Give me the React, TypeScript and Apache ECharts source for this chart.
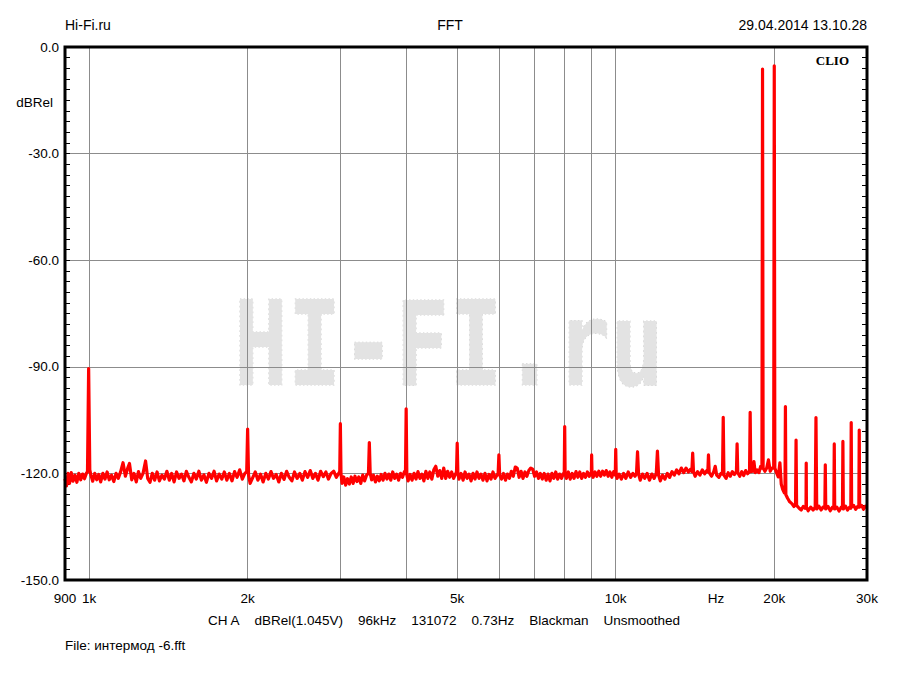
import React, { useEffect, useRef } from "react";
import * as echarts from "echarts";

// Spectrum: [frequency Hz, level dBRel]
const lowBand: [number, number][] = [
  [900, -121.5], [906, -123.5], [912, -120], [918, -122.8], [925, -119.8], [932, -122.2], [940, -120.5], [948, -122.5],
  [956, -120], [964, -121.8], [972, -120.2], [980, -121.5], [988, -120], [993, -119.5], [998, -90.5], [1003, -119],
  [1008, -120.5], [1016, -122.2], [1025, -120], [1034, -121.8], [1043, -120.3], [1052, -122.4], [1062, -120], [1072, -121.6],
  [1082, -119.6], [1092, -121.8], [1103, -120.5], [1114, -122.3], [1125, -120], [1136, -121.4], [1148, -119.5], [1160, -117],
  [1172, -120.8], [1184, -118.5], [1193, -117.2], [1205, -121.8], [1217, -120], [1229, -122.4], [1241, -119.5], [1253, -121.4],
  [1266, -120], [1280, -116.5], [1292, -121.4], [1305, -122.5], [1318, -120], [1332, -121.9], [1346, -119.6], [1360, -122.1],
  [1375, -120.5], [1390, -121.6], [1405, -119.4], [1420, -121.9], [1435, -120], [1450, -122.4], [1466, -119.6], [1482, -121.4],
  [1498, -120.2], [1514, -122.1], [1530, -119.4], [1547, -121.1], [1564, -122.4], [1581, -120], [1598, -121.6], [1616, -119.4],
  [1634, -121.9], [1652, -120.4], [1670, -122.5], [1689, -120], [1708, -121.4], [1727, -119.4], [1746, -122.1], [1766, -120.2],
  [1786, -121.6], [1806, -119.6], [1826, -121.9], [1847, -120], [1868, -122.1], [1889, -119.5], [1910, -121.1], [1932, -119],
  [1954, -121.6], [1976, -120], [1992, -119.5], [2000, -107.5], [2008, -120.5], [2022, -122.8], [2045, -121.2], [2068, -119.6],
  [2092, -121.9], [2116, -120.2], [2140, -122.4], [2165, -120], [2190, -121.6], [2215, -119.5], [2240, -121.4], [2266, -120.3],
  [2292, -122.4], [2318, -120], [2345, -121.7], [2372, -119.4], [2399, -121.1], [2427, -122.1], [2455, -119.6], [2483, -121.4],
  [2512, -120], [2541, -121.9], [2570, -119.5], [2600, -121.1], [2630, -119.2], [2660, -121.4], [2690, -120], [2721, -121.9],
  [2752, -119.4], [2784, -120.9], [2816, -119.6], [2848, -121.6], [2881, -120], [2914, -119.4], [2948, -121.1], [2978, -120],
  [2992, -119.5], [3000, -106], [3008, -120],
];

const midBand: [number, number][] = [
  [3022, -122.8], [3045, -121], [3070, -123.3], [3095, -121.5], [3120, -123], [3146, -121], [3172, -122.8], [3198, -120.8],
  [3225, -122.3], [3252, -121], [3280, -122.8], [3308, -120.5], [3336, -122.1], [3364, -120.5], [3392, -120], [3405, -111.3],
  [3418, -120], [3440, -121.8], [3468, -120.5], [3497, -122.4], [3526, -120.8], [3556, -122.1], [3586, -120.3], [3616, -121.9],
  [3646, -120], [3677, -121.6], [3708, -120.2], [3740, -121.9], [3772, -119.6], [3804, -121.4], [3837, -120.2], [3870, -121.9],
  [3903, -120], [3936, -121.1], [3970, -119.5], [3988, -120], [4000, -101.8], [4012, -120.5], [4035, -122.1], [4070, -120.3],
  [4105, -121.9], [4140, -120], [4176, -121.6], [4212, -119.5], [4248, -121.4], [4285, -120.2], [4322, -122.1], [4360, -119.4],
  [4398, -121.4], [4436, -119.6], [4475, -121.6], [4514, -119], [4553, -118], [4593, -120.8], [4633, -119.2], [4673, -121.4],
  [4714, -118.5], [4755, -121.4], [4796, -119.4], [4838, -121.1], [4880, -119.6], [4922, -121.4], [4970, -120], [4985, -119.5],
  [5000, -111.5], [5015, -120], [5040, -121.6], [5085, -120], [5130, -121.9], [5175, -119.6], [5220, -121.4], [5266, -120.2],
  [5312, -122.1], [5358, -120], [5405, -121.6], [5452, -119.6], [5500, -121.4], [5548, -120.2], [5597, -121.9], [5646, -120],
  [5696, -122.1], [5746, -120.3], [5796, -121.6], [5847, -119.6], [5898, -121.4], [5950, -120.5], [5980, -120], [6000, -114.8],
  [6020, -120.5], [6070, -121.6], [6122, -120], [6175, -121.9], [6228, -120.2], [6282, -121.4], [6336, -119.4], [6390, -120.8],
  [6445, -118.2], [6500, -118.5], [6555, -121.1], [6611, -119.4], [6667, -121.4], [6724, -119.6], [6781, -120.8], [6839, -119.2],
  [6897, -118.5], [6955, -118.8], [7014, -120.8], [7073, -119.6], [7133, -121.4], [7193, -120], [7254, -121.6], [7315, -120],
  [7377, -121.9], [7439, -120.2], [7502, -122.1], [7565, -120], [7629, -121.4], [7693, -119.6], [7758, -121.6], [7823, -120.2],
  [7889, -121.4], [7955, -120], [7985, -119.8], [8000, -106.8], [8015, -120.2], [8060, -121.4], [8128, -119.6], [8196, -121.6],
  [8265, -120], [8334, -121.4], [8404, -119.5], [8474, -121.1], [8545, -119.6], [8616, -121.4], [8688, -120], [8760, -121.1],
  [8833, -119.6], [8906, -120.8], [8975, -119.8], [8990, -120], [9000, -114.8], [9015, -120], [9060, -121.1], [9135, -119.6],
  [9210, -120.8], [9286, -119.4], [9362, -120.8], [9439, -119.4], [9516, -120.5], [9594, -119.2], [9672, -120.8], [9751, -119.6],
  [9830, -121.1], [9910, -119.5], [9980, -120.5], [10000, -113.2], [10020, -120],
];

const highBand: [number, number][] = [
  [10060, -121.4], [10150, -120.2], [10250, -121.6], [10350, -120], [10450, -121.4], [10560, -119.6], [10670, -121.1], [10780, -120],
  [10880, -120.8], [10950, -120], [11000, -113.9], [11050, -120.2], [11130, -121.9], [11240, -120.2], [11350, -121.4], [11470, -120],
  [11590, -121.9], [11710, -120.2], [11830, -121.4], [11940, -120], [12000, -113.7], [12060, -120.5], [12150, -122.1], [12270, -120.5],
  [12400, -121.6], [12530, -120], [12660, -121.1], [12790, -119.5], [12920, -120.5], [13050, -119], [13180, -120.1], [13320, -118.5],
  [13460, -119.8], [13600, -118.5], [13740, -119.6], [13880, -118.8], [13950, -119.5], [14000, -114.3], [14050, -119.5], [14150, -120.8],
  [14300, -119.5], [14450, -120.5], [14600, -119], [14750, -120.1], [14900, -119.2], [14960, -119.5], [15000, -114.8], [15050, -119.8],
  [15200, -120.8], [15350, -119.5], [15450, -118], [15550, -120.5], [15700, -121.1], [15850, -120], [15950, -120.2], [16000, -104.2],
  [16050, -120.5], [16200, -121.4], [16350, -119.8], [16500, -120.8], [16650, -119.5], [16800, -120.3], [16950, -119.5], [17000, -111.7],
  [17050, -119.8], [17200, -120.8], [17350, -119.5], [17500, -120.6], [17650, -119.2], [17800, -120.1], [17950, -119.5], [18000, -102.8],
  [18050, -119.5], [18200, -119.4], [18300, -116.7], [18400, -119.8], [18550, -119], [18700, -119.8], [18850, -118], [18950, -118.5],
  [19000, -6.2], [19050, -118.5], [19200, -119.4], [19350, -118.5], [19500, -116.2], [19650, -119.4], [19800, -118.5], [19950, -118.5],
  [20000, -5.3], [20050, -118.5], [20200, -119.8], [20350, -121], [20500, -117], [20620, -123], [20750, -124.5], [20900, -125.5],
  [20960, -125], [21000, -101.2], [21040, -126], [21200, -127], [21400, -128], [21600, -128.5], [21800, -129.3], [21950, -128.5],
  [22000, -110.6], [22050, -129], [22300, -129.8], [22500, -130.3], [22700, -129.3], [22900, -129.8], [22980, -129], [23000, -117.1],
  [23020, -129.5], [23200, -130.5], [23450, -129.5], [23700, -130.3], [23920, -129.5], [24000, -104.3], [24080, -130], [24300, -129.2],
  [24550, -130.3], [24750, -129.5], [24950, -129.8], [25000, -117.6], [25050, -130], [25300, -129.3], [25550, -130.5], [25800, -129.5],
  [25950, -129.8], [26000, -111.7], [26050, -130], [26300, -129.5], [26550, -130.6], [26800, -129.5], [26950, -129.8], [27000, -111],
  [27050, -130], [27300, -129.2], [27550, -130.3], [27800, -129.5], [27950, -129.8], [28000, -105.7], [28050, -129.5], [28300, -129],
  [28550, -130.1], [28800, -129.3], [28950, -129.5], [29000, -107.8], [29050, -129.5], [29300, -129], [29550, -130.1], [29800, -129.2],
  [30000, -129.5],
];

const gridFreqs = [1000, 2000, 3000, 4000, 5000, 6000, 7000, 8000, 9000, 10000, 20000];
const xTickValues = [900, 1000, 2000, 5000, 10000, 15500, 20000, 30000];
const xTickLabels = ["900", "1k", "2k", "5k", "10k", "Hz", "20k", "30k"];

const FONT = "'Liberation Sans', Arial, sans-serif";
const SP = "\u00A0\u00A0\u00A0\u00A0";

export default function App() {
  const ref = useRef<HTMLDivElement>(null);

  useEffect(() => {
    if (!ref.current) return;
    const chart = echarts.init(ref.current, null, { renderer: "svg" });

    const spectrum = [...lowBand, ...midBand, ...highBand];

    const option: any = {
      animation: false,
      backgroundColor: "#ffffff",
      textStyle: { fontFamily: FONT },
      grid: {
        left: 65,
        right: 33,
        top: 47,
        bottom: 95,
        show: true,
        borderColor: "#000",
        borderWidth: 3,
        backgroundColor: "transparent",
        z: 4,
      },
      xAxis: {
        type: "log",
        logBase: 10,
        min: 900,
        max: 30000,
        axisLine: { show: false },
        axisTick: { show: false },
        splitLine: { show: false },
        minorTick: { show: false },
        minorSplitLine: { show: false },
        axisLabel: {
          customValues: xTickValues,
          showMinLabel: true,
          showMaxLabel: true,
          hideOverlap: false,
          color: "#000",
          fontSize: 13.5,
          fontFamily: FONT,
          margin: 11,
          formatter: (v: number) => {
            const i = xTickValues.findIndex((t) => Math.abs(t - v) < 1);
            return i >= 0 ? xTickLabels[i] : "";
          },
        },
      },
      yAxis: [
        {
          type: "value",
          min: -150,
          max: 0,
          interval: 30,
          axisLine: { show: false },
          axisTick: { show: true, inside: true, length: 5, lineStyle: { color: "#000", width: 1 } },
          minorTick: { show: true, splitNumber: 10, length: 5, lineStyle: { color: "#000", width: 1 } },
          splitLine: { show: true, lineStyle: { color: "#8c8c8c", width: 1 } },
          axisLabel: {
            color: "#000",
            fontSize: 13.5,
            fontFamily: FONT,
            margin: 6,
            formatter: (v: number) => v.toFixed(1),
          },
        },
        {
          type: "value",
          position: "right",
          min: -150,
          max: 0,
          interval: 30,
          axisLine: { show: false },
          axisTick: { show: true, inside: true, length: 5, lineStyle: { color: "#000", width: 1 } },
          minorTick: { show: true, splitNumber: 10, length: 5, lineStyle: { color: "#000", width: 1 } },
          splitLine: { show: false },
          axisLabel: { show: false },
        },
      ],
      graphic: [
        {
          type: "text",
          x: 234,
          y: 286,
          z: 0,
          silent: true,
          scaleX: 0.93,
          scaleY: 1.22,
          style: {
            text: "HI-FI.ru",
            fontFamily: "'DejaVu Sans Mono', monospace",
            fontWeight: "bold",
            fontSize: 96,
            fill: "#e3e3e3",
            stroke: "#d0d0d0",
            lineWidth: 1,
            lineDash: [1.5, 2.5],
            align: "left",
            verticalAlign: "top",
          },
        },
        {
          type: "text",
          x: 65,
          y: 25,
          style: { text: "Hi-Fi.ru", fontFamily: FONT, fontSize: 14, fill: "#000", align: "left", verticalAlign: "middle" },
        },
        {
          type: "text",
          x: 450,
          y: 25,
          style: { text: "FFT", fontFamily: FONT, fontSize: 14, fill: "#000", align: "center", verticalAlign: "middle" },
        },
        {
          type: "text",
          x: 867,
          y: 25,
          style: { text: "29.04.2014 13.10.28", fontFamily: FONT, fontSize: 14, fill: "#000", align: "right", verticalAlign: "middle" },
        },
        {
          type: "text",
          x: 849,
          y: 60,
          z: 10,
          style: {
            text: "CLIO",
            fontFamily: "'Liberation Serif', 'Times New Roman', serif",
            fontWeight: "bold",
            fontSize: 13,
            fill: "#000",
            align: "right",
            verticalAlign: "middle",
          },
        },
        {
          type: "text",
          x: 53,
          y: 102,
          style: { text: "dBRel", fontFamily: FONT, fontSize: 13.5, fill: "#000", align: "right", verticalAlign: "middle" },
        },
        {
          type: "text",
          x: 444,
          y: 620,
          style: {
            text: ["CH A", "dBRel(1.045V)", "96kHz", "131072", "0.73Hz", "Blackman", "Unsmoothed"].join(SP),
            fontFamily: FONT,
            fontSize: 13.5,
            fill: "#000",
            align: "center",
            verticalAlign: "middle",
          },
        },
        {
          type: "text",
          x: 65,
          y: 645,
          style: { text: "File: интермод -6.fft", fontFamily: FONT, fontSize: 13.5, fill: "#000", align: "left", verticalAlign: "middle" },
        },
      ],
      series: [
        {
          type: "line",
          data: [],
          z: 1,
          silent: true,
          markLine: {
            silent: true,
            z: 1,
            symbol: ["none", "none"],
            label: { show: false },
            lineStyle: { color: "#8c8c8c", width: 1, type: "solid" },
            emphasis: { disabled: true },
            data: gridFreqs.map((f) => ({ xAxis: f })),
          },
        },
        {
          type: "line",
          data: spectrum,
          z: 3,
          showSymbol: false,
          symbol: "none",
          silent: true,
          clip: true,
          lineStyle: { color: "#ff0000", width: 3.2, join: "round" },
        },
      ],
    };

    chart.setOption(option);
    return () => chart.dispose();
  }, []);

  return <div ref={ref} style={{ position: "absolute", left: 0, top: 0, width: 900, height: 675 }} />;
}
